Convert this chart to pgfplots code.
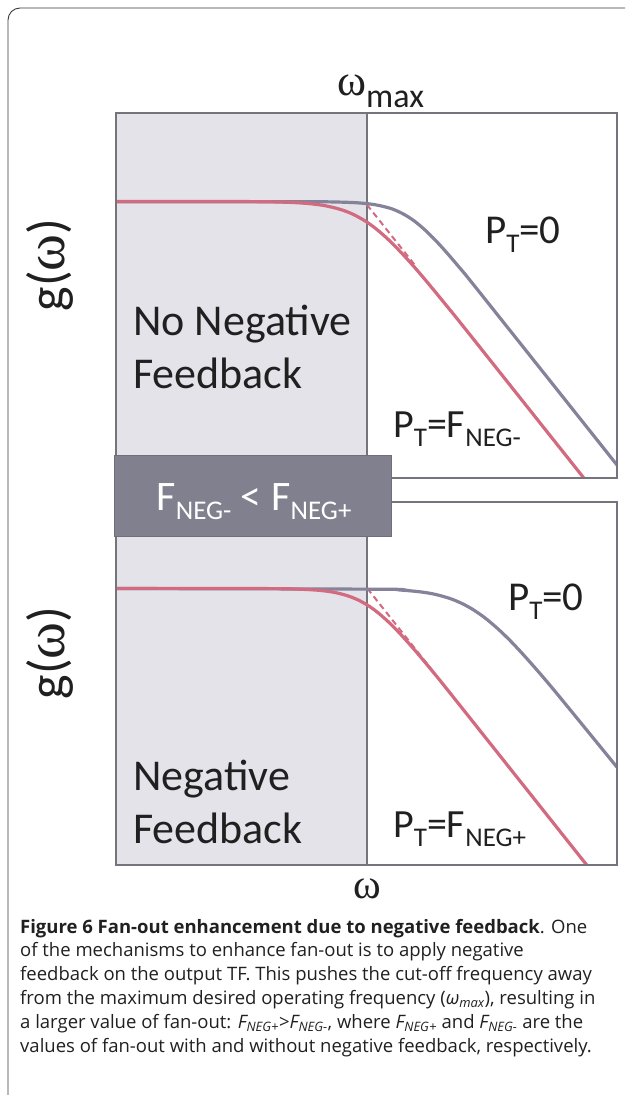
\documentclass[border=0pt]{standalone}
\usepackage{fontspec}
\setmainfont{Carlito}
\newfontfamily\capfont{Open Sans}
\newfontfamily\omegafont{Liberation Serif}
\usepackage{pgfplots}
\pgfplotsset{compat=1.18}
\definecolor{shade}{HTML}{E4E3EA}
\definecolor{axisgray}{HTML}{75747D}
\definecolor{graycurve}{HTML}{84839A}
\definecolor{redcurve}{HTML}{D26A80}
\definecolor{boxgray}{HTML}{81808F}
\definecolor{boxedge}{HTML}{6F6E7B}
\definecolor{txt}{HTML}{202020}
\definecolor{framecol}{HTML}{3A3A3A}
\newcommand\fsz[1]{\fontsize{#1}{#1}\selectfont}
\newcommand\sub[1]{\raisebox{-9pt}{\fontsize{27}{27}\selectfont #1}}
\newcommand\om{{\omegafont ω}}
\begin{document}
\begin{tikzpicture}[x=1pt,y=1pt]
\path[use as bounding box] (0,0) rectangle (625,-1095);
\draw[framecol, line width=0.9pt] (8,-1095) -- (8,-20) arc[start angle=180,end angle=90,radius=12] -- (625,-8);
\pgfplotsset{panel/.style={scale only axis, width=501pt, xmin=0, xmax=501, ymin=0,
  ticks=none, axis line style={draw=axisgray, line width=2.8pt}, axis on top, clip=true}}
% ---------------- upper panel ----------------
\begin{axis}[panel, at={(116,-478)}, anchor=south west, height=365pt, ymax=365]
\addplot[draw=none, fill=shade] coordinates {(0,0) (251,0) (251,365) (0,365)} -- cycle;
\addplot[axisgray, line width=2.8pt] coordinates {(251,0) (251,365)};
\addplot[redcurve, line width=2pt, dash pattern=on 6pt off 4pt] coordinates {(251,273.2) (300,211.5)};
\addplot[graycurve, line width=3.2pt, smooth] coordinates {
(0,276.3) (184,276.3) (224,275.9) (244,275.0) (259,273.3) (274,269.8) (284,265.7)
(292,261.3) (300,255.7) (309,248.0) (319,238.2) (329,227.3) (344,209.8) (364,185.2) (501,13.0)};
\addplot[redcurve, line width=3.2pt, smooth] coordinates {
(-3,276.5) (134,276.4) (174,275.6) (194,274.3) (209,272.3) (224,268.7) (236,264.2)
(248.4,257.5) (259,250.0) (271,239.7) (284,226.7) (299,210.2) (314,192.5) (334,168.1)
(354,143.2) (467.8,0)};
\end{axis}
% ---------------- lower panel ----------------
\begin{axis}[panel, at={(116,-865)}, anchor=south west, height=363pt, ymax=363]
\addplot[draw=none, fill=shade] coordinates {(0,0) (251,0) (251,363) (0,363)} -- cycle;
\addplot[axisgray, line width=2.8pt] coordinates {(251,0) (251,363)};
\addplot[redcurve, line width=2pt, dash pattern=on 6pt off 4pt] coordinates {(251.4,276.5) (318,192.5)};
\addplot[graycurve, line width=3.2pt, smooth] coordinates {
(0,276.5) (264,275.8) (284,275.0) (304,273.2) (319,270.7) (334,266.5) (346,261.5)
(356.9,255.5) (369,247.1) (382,236.1) (396,222.5) (414,202.9) (439,173.7) (501,97.8)};
\addplot[redcurve, line width=3.2pt, smooth] coordinates {
(0,276.5) (154,276.4) (184,275.8) (204,274.6) (219,272.5) (232,269.1) (242,265.1)
(251.4,259.9) (261,253.1) (272,243.5) (284,231.4) (299,214.6) (316,194.3) (339,165.8)
(470.7,0)};
\end{axis}
% ---------------- box between panels ----------------
\filldraw[fill=boxgray, draw=boxedge, line width=1pt] (114.6,-455) rectangle (391,-536);
\node[anchor=base, text=white, inner sep=0pt, font=\fsz{42}] at (254,-510) {F\sub{NEG-} < F\sub{NEG+}};
% ---------------- labels ----------------
\begin{scope}[every node/.style={inner sep=0pt, text=txt}]
\node[anchor=base west, font=\fsz{44}] at (337,-95) {\om\raisebox{-12pt}{\fsz{34}max}};
\node[anchor=base, rotate=90, font=\fsz{52}] at (64,-265) {g({\fsz{56}\om})};
\node[anchor=base, rotate=90, font=\fsz{52}] at (64,-653) {g({\fsz{56}\om})};
\node[anchor=base west, font=\fsz{44}] at (133,-335) {No Negative};
\node[anchor=base west, font=\fsz{44}] at (133,-388) {Feedback};
\node[anchor=base west, font=\fsz{44}] at (133,-790) {Negative};
\node[anchor=base west, font=\fsz{44}] at (133,-843) {Feedback};
\node[anchor=base west, font=\fsz{41}] at (485,-243) {P\sub{T}=0};
\node[anchor=base west, font=\fsz{41}] at (508,-610) {P\sub{T}=0};
\node[anchor=base west, font=\fsz{40}] at (393,-437) {P\sub{T}=F\sub{NEG-}};
\node[anchor=base west, font=\fsz{40}] at (393,-837) {P\sub{T}=F\sub{NEG+}};
\node[anchor=base, font=\fsz{42}] at (367,-898) {\om};
\end{scope}
% ---------------- caption ----------------
\begin{scope}[every node/.style={inner sep=0pt, anchor=base west, text=txt, font=\capfont\fontsize{18.5}{18.5}\selectfont}]
\node at (20,-933) {\textbf{Figure 6 Fan-out enhancement due to negative feedback}. One};
\node at (20,-956.8) {of the mechanisms to enhance fan-out is to apply negative};
\node at (20,-980.6) {feedback on the output TF. This pushes the cut-off frequency away};
\node at (20,-1004.4) {from the maximum desired operating frequency (\textit{ω\textsubscript{max}}), resulting in};
\node at (20,-1028.2) {a larger value of fan-out: \textit{F\textsubscript{NEG+}}>\textit{F\textsubscript{NEG-}}, where \textit{F\textsubscript{NEG+}} and \textit{F\textsubscript{NEG-}} are the};
\node at (20,-1052) {values of fan-out with and without negative feedback, respectively.};
\end{scope}
\end{tikzpicture}
\end{document}
